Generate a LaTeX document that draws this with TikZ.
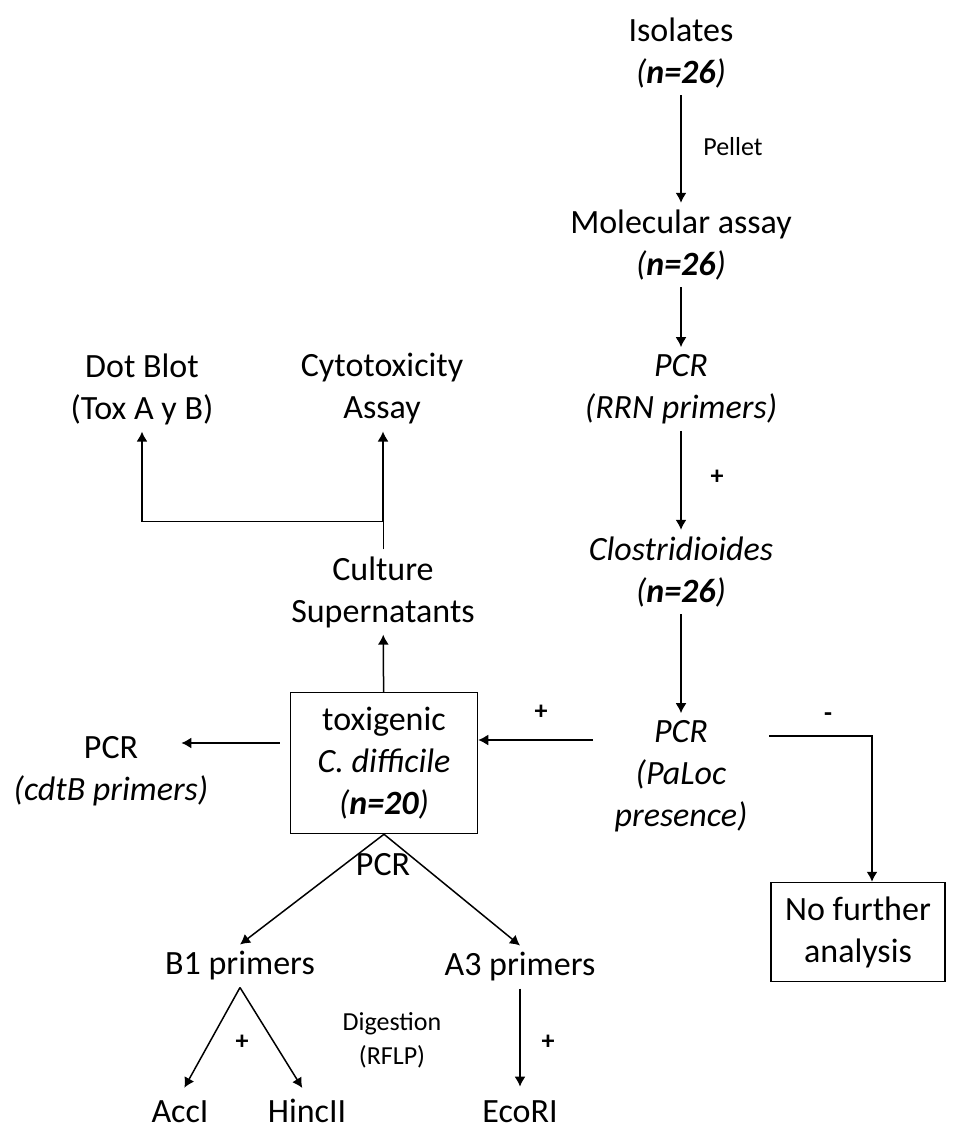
\documentclass[tikz,border=0pt]{standalone}
\usepackage{fontspec}
\setmainfont{Carlito}
\usetikzlibrary{calc,arrows.meta}

\begin{document}
\begin{tikzpicture}[x=0.5pt,y=-0.5pt,
    txt/.style={align=center,font=\fontsize{17}{21}\selectfont},
    box/.style={txt,draw,line width=0.75pt},
    small/.style={align=center,font=\fontsize{13}{17}\selectfont},
    sign/.style={font=\fontsize{13}{17}\selectfont\bfseries},
    enzyme/.style={txt,anchor=base,text height=12pt,inner ysep=1pt},
    arr/.style={-{Latex[length=5pt,width=5.5pt]},line width=0.75pt}]
    \useasboundingbox (0,0) rectangle (960,1128);

    % main column
    \node[txt] (iso) at (681,53) {Isolates\\\textit{(\textbf{n=26})}};
    \node[txt] (mol) at (681,245) {Molecular assay\\\textit{(\textbf{n=26})}};
    \node[txt] (rrn) at (681,389) {\textit{PCR}\\\textit{(RRN primers)}};
    \node[txt] (clos) at (681,572) {\textit{Clostridioides}\\\textit{(\textbf{n=26})}};
    \node[txt] (paloc) at (681,776) {\textit{PCR}\\\textit{(PaLoc}\\\textit{presence)}};
    \node[box,minimum width=87pt,minimum height=49.5pt] (nofur) at (858,932) {No further\\analysis};

    \node[small] (pellet) at (733,147) {Pellet};
    \node[sign] (pos1) at (717,477) {+};
    \node[sign] (pos2) at (541,712) {+};
    \node[sign] (neg) at (828,717) {-};

    \draw[arr] (iso) -- (mol);
    \draw[arr] (mol) -- (rrn);
    \draw[arr] (rrn) -- (clos);
    \draw[arr] (clos) -- (paloc);

    % toxigenic branch
    \node[box,minimum width=93.5pt,minimum height=70.5pt] (tox) at (384,763)
        {toxigenic\\\textit{C. difficile}\\\textit{(\textbf{n=20})}};
    \node[txt] (cdtb) at (111,771) {PCR\\\textit{(cdtB primers)}};
    \node[txt] (cult) at (383,592) {Culture\\Supernatants};
    \node[txt] (dot) at (142,389) {Dot Blot\\(Tox A y B)};
    \node[txt] (cyto) at (382,389) {Cytotoxicity\\Assay};

    \coordinate (plus) at (593,740);
    \coordinate (minus) at (769,736);
    \draw[arr] (plus) -- (plus -| tox.east);
    \draw[arr] (minus) -| ($(nofur.north)+(14,0)$);
    \draw[arr] ([shift={(-10,-20)}]tox.west) -- ([shift={(-34,-28)}]cdtb.east);
    \draw[arr] (tox) -- (cult);
    \draw (cult.north) -- ++(0,-28) coordinate (fork);
    \draw[arr] (fork) -| (dot.south);
    \draw[arr] (fork) -- (fork |- cyto.south);

    % PCR / RFLP
    \node[txt] (pcr) at (383,865) {PCR};
    \node[txt] (b1) at (240,966) {B1 primers};
    \node[txt] (a3) at (520,967) {A3 primers};
    \node[enzyme] (acc) at (180,1122) {AccI};
    \node[enzyme] (hinc) at (307,1122) {HincII};
    \node[enzyme] (eco) at (520,1122) {EcoRI};
    \node[small] (dig) at (392,1040) {Digestion\\(RFLP)};
    \node[sign] (pos3) at (242,1042) {+};
    \node[sign] (pos4) at (548,1042) {+};

    \draw[arr] (tox.south) -- (b1.north);
    \draw[arr] (tox.south) -- (a3.north);
    \draw[arr,shorten >=4.5pt] (b1.south) -- (acc.north);
    \draw[arr,shorten >=4.5pt] (b1.south) -- (hinc.north);
    \draw[arr,shorten >=4.5pt] (a3) -- (eco.north);
\end{tikzpicture}
\end{document}
